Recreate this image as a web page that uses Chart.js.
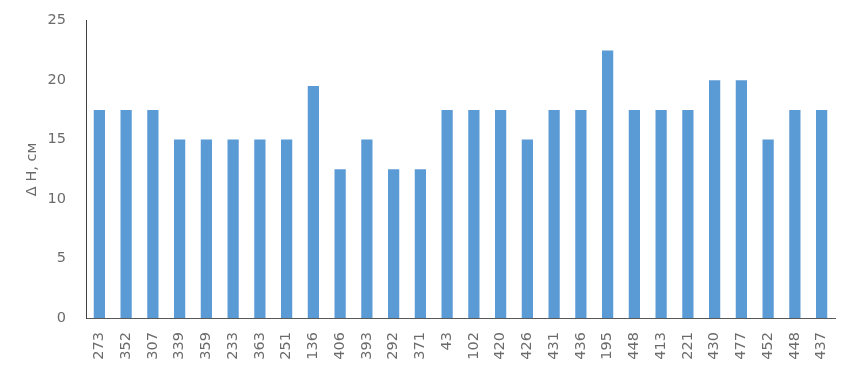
<!DOCTYPE html>
<html>
<head>
<meta charset="utf-8">
<script src="https://cdn.jsdelivr.net/npm/chart.js@4/dist/chart.umd.min.js"></script>
<style>
  html, body { margin: 0; padding: 0; background: #fff; }
  #wrap { width: 855px; height: 370px; }
</style>
</head>
<body>
<div id="wrap"><canvas id="grafico" width="855" height="370"></canvas></div>
<script>
// Datos del gráfico
const categorias = ['273', '352', '307', '339', '359', '233', '363', '251', '136', '406', '393', '292', '371', '43',
  '102', '420', '426', '431', '436', '195', '448', '413', '221', '430', '477', '452', '448', '437'];
const valoresDH = [17.5, 17.5, 17.5, 15, 15, 15, 15, 15, 19.5, 12.5, 15, 12.5, 12.5, 17.5,
  17.5, 17.5, 15, 17.5, 17.5, 22.5, 17.5, 17.5, 17.5, 20, 20, 15, 17.5, 17.5];
const ticksY = [0, 5, 10, 15, 20, 25];

const colorTexto = '#6b6b6b';
const fuente = { family: 'DejaVu Sans', size: 14.5 };

const ctx = document.getElementById('grafico').getContext('2d');
new Chart(ctx, {
  type: 'bar',
  data: {
    labels: categorias,
    datasets: [{
      label: 'Δ Н, см',
      data: valoresDH,
      backgroundColor: '#5b9bd5',
      borderWidth: 0,
      categoryPercentage: 1,
      barPercentage: 0.42
    }]
  },
  options: {
    responsive: false,
    animation: false,
    events: [],
    layout: { padding: { top: 9, right: 20, left: 20, bottom: 8 } },
    plugins: { legend: { display: false }, tooltip: { enabled: false } },
    scales: {
      x: {
        grid: { display: false },
        border: { display: true, color: '#595959', width: 1 },
        ticks: { color: colorTexto, font: fuente, minRotation: 90, maxRotation: 90, autoSkip: false, padding: 6 },
        afterFit: s => { s.height = 44; }
      },
      y: {
        min: 0, max: 25,
        afterBuildTicks: s => { s.ticks = ticksY.map(v => ({ value: v })); },
        grid: { display: false },
        border: { display: true, color: '#404040', width: 1 },
        ticks: { color: colorTexto, font: fuente, padding: 12 },
        title: { display: true, text: 'Δ Н, см', color: colorTexto, font: fuente, padding: 4 },
        afterFit: s => { s.width = 66; }
      }
    }
  }
});
</script>
</body>
</html>
